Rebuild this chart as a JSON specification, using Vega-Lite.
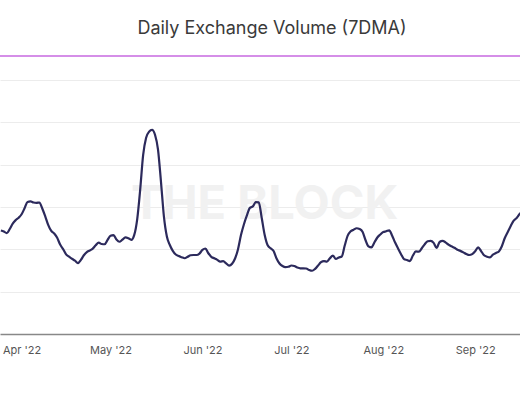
{
  "$schema": "https://vega.github.io/schema/vega-lite/v6.json",
  "autosize": {"type": "none"},
  "width": 520,
  "height": 278,
  "padding": {"top": 56, "left": 0, "right": 0, "bottom": 66},
  "background": "#ffffff",
  "title": {
    "text": "Daily Exchange Volume (7DMA)",
    "font": "Inter",
    "fontSize": 18,
    "fontWeight": "normal",
    "color": "#3a3a3a",
    "anchor": "middle",
    "offset": 17,
    "dx": 12
  },
  "config": {
    "view": {"stroke": null},
    "font": "Inter"
  },
  "datasets": {
    "vol": [
      {"date": "2022-03-25T00:00:00", "v": 12.23},
      {"date": "2022-03-26T00:00:00", "v": 12.11},
      {"date": "2022-03-27T00:00:00", "v": 11.91},
      {"date": "2022-03-28T00:00:00", "v": 12.40},
      {"date": "2022-03-29T00:00:00", "v": 13.04},
      {"date": "2022-03-30T00:00:00", "v": 13.45},
      {"date": "2022-03-31T00:00:00", "v": 13.74},
      {"date": "2022-04-01T00:00:00", "v": 14.15},
      {"date": "2022-04-02T00:00:00", "v": 14.86},
      {"date": "2022-04-03T00:00:00", "v": 15.60},
      {"date": "2022-04-04T00:00:00", "v": 15.67},
      {"date": "2022-04-05T00:00:00", "v": 15.54},
      {"date": "2022-04-06T00:00:00", "v": 15.49},
      {"date": "2022-04-07T00:00:00", "v": 15.53},
      {"date": "2022-04-08T00:00:00", "v": 14.80},
      {"date": "2022-04-09T00:00:00", "v": 13.87},
      {"date": "2022-04-10T00:00:00", "v": 12.86},
      {"date": "2022-04-11T00:00:00", "v": 12.17},
      {"date": "2022-04-12T00:00:00", "v": 11.87},
      {"date": "2022-04-13T00:00:00", "v": 11.36},
      {"date": "2022-04-14T00:00:00", "v": 10.56},
      {"date": "2022-04-15T00:00:00", "v": 10.03},
      {"date": "2022-04-16T00:00:00", "v": 9.41},
      {"date": "2022-04-17T00:00:00", "v": 9.13},
      {"date": "2022-04-18T00:00:00", "v": 8.89},
      {"date": "2022-04-19T00:00:00", "v": 8.66},
      {"date": "2022-04-20T00:00:00", "v": 8.37},
      {"date": "2022-04-21T00:00:00", "v": 8.75},
      {"date": "2022-04-22T00:00:00", "v": 9.30},
      {"date": "2022-04-23T00:00:00", "v": 9.67},
      {"date": "2022-04-24T00:00:00", "v": 9.86},
      {"date": "2022-04-25T00:00:00", "v": 10.09},
      {"date": "2022-04-26T00:00:00", "v": 10.48},
      {"date": "2022-04-27T00:00:00", "v": 10.80},
      {"date": "2022-04-28T00:00:00", "v": 10.63},
      {"date": "2022-04-29T00:00:00", "v": 10.60},
      {"date": "2022-04-30T00:00:00", "v": 11.12},
      {"date": "2022-05-01T00:00:00", "v": 11.60},
      {"date": "2022-05-02T00:00:00", "v": 11.68},
      {"date": "2022-05-03T00:00:00", "v": 11.16},
      {"date": "2022-05-04T00:00:00", "v": 10.90},
      {"date": "2022-05-05T00:00:00", "v": 11.14},
      {"date": "2022-05-06T00:00:00", "v": 11.42},
      {"date": "2022-05-07T00:00:00", "v": 11.32},
      {"date": "2022-05-08T00:00:00", "v": 11.12},
      {"date": "2022-05-09T00:00:00", "v": 11.71},
      {"date": "2022-05-10T00:00:00", "v": 13.58},
      {"date": "2022-05-11T00:00:00", "v": 17.06},
      {"date": "2022-05-12T00:00:00", "v": 21.16},
      {"date": "2022-05-13T00:00:00", "v": 23.18},
      {"date": "2022-05-14T00:00:00", "v": 23.90},
      {"date": "2022-05-15T00:00:00", "v": 24.11},
      {"date": "2022-05-16T00:00:00", "v": 23.54},
      {"date": "2022-05-17T00:00:00", "v": 21.82},
      {"date": "2022-05-18T00:00:00", "v": 18.04},
      {"date": "2022-05-19T00:00:00", "v": 13.90},
      {"date": "2022-05-20T00:00:00", "v": 11.52},
      {"date": "2022-05-21T00:00:00", "v": 10.51},
      {"date": "2022-05-22T00:00:00", "v": 9.82},
      {"date": "2022-05-23T00:00:00", "v": 9.39},
      {"date": "2022-05-24T00:00:00", "v": 9.20},
      {"date": "2022-05-25T00:00:00", "v": 9.07},
      {"date": "2022-05-26T00:00:00", "v": 8.95},
      {"date": "2022-05-27T00:00:00", "v": 9.12},
      {"date": "2022-05-28T00:00:00", "v": 9.30},
      {"date": "2022-05-29T00:00:00", "v": 9.33},
      {"date": "2022-05-30T00:00:00", "v": 9.33},
      {"date": "2022-05-31T00:00:00", "v": 9.50},
      {"date": "2022-06-01T00:00:00", "v": 9.93},
      {"date": "2022-06-02T00:00:00", "v": 10.10},
      {"date": "2022-06-03T00:00:00", "v": 9.54},
      {"date": "2022-06-04T00:00:00", "v": 9.12},
      {"date": "2022-06-05T00:00:00", "v": 8.94},
      {"date": "2022-06-06T00:00:00", "v": 8.76},
      {"date": "2022-06-07T00:00:00", "v": 8.55},
      {"date": "2022-06-08T00:00:00", "v": 8.61},
      {"date": "2022-06-09T00:00:00", "v": 8.34},
      {"date": "2022-06-10T00:00:00", "v": 8.08},
      {"date": "2022-06-11T00:00:00", "v": 8.30},
      {"date": "2022-06-12T00:00:00", "v": 8.92},
      {"date": "2022-06-13T00:00:00", "v": 10.02},
      {"date": "2022-06-14T00:00:00", "v": 11.69},
      {"date": "2022-06-15T00:00:00", "v": 12.97},
      {"date": "2022-06-16T00:00:00", "v": 14.01},
      {"date": "2022-06-17T00:00:00", "v": 14.90},
      {"date": "2022-06-18T00:00:00", "v": 15.08},
      {"date": "2022-06-19T00:00:00", "v": 15.57},
      {"date": "2022-06-20T00:00:00", "v": 15.54},
      {"date": "2022-06-21T00:00:00", "v": 13.70},
      {"date": "2022-06-22T00:00:00", "v": 11.69},
      {"date": "2022-06-23T00:00:00", "v": 10.48},
      {"date": "2022-06-24T00:00:00", "v": 10.12},
      {"date": "2022-06-25T00:00:00", "v": 9.80},
      {"date": "2022-06-26T00:00:00", "v": 8.93},
      {"date": "2022-06-27T00:00:00", "v": 8.33},
      {"date": "2022-06-28T00:00:00", "v": 8.03},
      {"date": "2022-06-29T00:00:00", "v": 7.89},
      {"date": "2022-06-30T00:00:00", "v": 7.94},
      {"date": "2022-07-01T00:00:00", "v": 8.09},
      {"date": "2022-07-02T00:00:00", "v": 8.03},
      {"date": "2022-07-03T00:00:00", "v": 7.85},
      {"date": "2022-07-04T00:00:00", "v": 7.76},
      {"date": "2022-07-05T00:00:00", "v": 7.76},
      {"date": "2022-07-06T00:00:00", "v": 7.74},
      {"date": "2022-07-07T00:00:00", "v": 7.56},
      {"date": "2022-07-08T00:00:00", "v": 7.47},
      {"date": "2022-07-09T00:00:00", "v": 7.70},
      {"date": "2022-07-10T00:00:00", "v": 8.09},
      {"date": "2022-07-11T00:00:00", "v": 8.48},
      {"date": "2022-07-12T00:00:00", "v": 8.62},
      {"date": "2022-07-13T00:00:00", "v": 8.55},
      {"date": "2022-07-14T00:00:00", "v": 8.94},
      {"date": "2022-07-15T00:00:00", "v": 9.27},
      {"date": "2022-07-16T00:00:00", "v": 8.86},
      {"date": "2022-07-17T00:00:00", "v": 9.04},
      {"date": "2022-07-18T00:00:00", "v": 9.15},
      {"date": "2022-07-19T00:00:00", "v": 10.45},
      {"date": "2022-07-20T00:00:00", "v": 11.63},
      {"date": "2022-07-21T00:00:00", "v": 12.13},
      {"date": "2022-07-22T00:00:00", "v": 12.32},
      {"date": "2022-07-23T00:00:00", "v": 12.49},
      {"date": "2022-07-24T00:00:00", "v": 12.40},
      {"date": "2022-07-25T00:00:00", "v": 12.07},
      {"date": "2022-07-26T00:00:00", "v": 11.10},
      {"date": "2022-07-27T00:00:00", "v": 10.36},
      {"date": "2022-07-28T00:00:00", "v": 10.24},
      {"date": "2022-07-29T00:00:00", "v": 10.81},
      {"date": "2022-07-30T00:00:00", "v": 11.40},
      {"date": "2022-07-31T00:00:00", "v": 11.75},
      {"date": "2022-08-01T00:00:00", "v": 12.05},
      {"date": "2022-08-02T00:00:00", "v": 12.13},
      {"date": "2022-08-03T00:00:00", "v": 12.25},
      {"date": "2022-08-04T00:00:00", "v": 11.61},
      {"date": "2022-08-05T00:00:00", "v": 10.80},
      {"date": "2022-08-06T00:00:00", "v": 10.10},
      {"date": "2022-08-07T00:00:00", "v": 9.43},
      {"date": "2022-08-08T00:00:00", "v": 8.85},
      {"date": "2022-08-09T00:00:00", "v": 8.74},
      {"date": "2022-08-10T00:00:00", "v": 8.62},
      {"date": "2022-08-11T00:00:00", "v": 9.27},
      {"date": "2022-08-12T00:00:00", "v": 9.75},
      {"date": "2022-08-13T00:00:00", "v": 9.72},
      {"date": "2022-08-14T00:00:00", "v": 10.13},
      {"date": "2022-08-15T00:00:00", "v": 10.61},
      {"date": "2022-08-16T00:00:00", "v": 10.95},
      {"date": "2022-08-17T00:00:00", "v": 11.01},
      {"date": "2022-08-18T00:00:00", "v": 10.77},
      {"date": "2022-08-19T00:00:00", "v": 10.16},
      {"date": "2022-08-20T00:00:00", "v": 10.87},
      {"date": "2022-08-21T00:00:00", "v": 10.99},
      {"date": "2022-08-22T00:00:00", "v": 10.83},
      {"date": "2022-08-23T00:00:00", "v": 10.56},
      {"date": "2022-08-24T00:00:00", "v": 10.36},
      {"date": "2022-08-25T00:00:00", "v": 10.18},
      {"date": "2022-08-26T00:00:00", "v": 9.95},
      {"date": "2022-08-27T00:00:00", "v": 9.82},
      {"date": "2022-08-28T00:00:00", "v": 9.64},
      {"date": "2022-08-29T00:00:00", "v": 9.45},
      {"date": "2022-08-30T00:00:00", "v": 9.33},
      {"date": "2022-08-31T00:00:00", "v": 9.44},
      {"date": "2022-09-01T00:00:00", "v": 9.78},
      {"date": "2022-09-02T00:00:00", "v": 10.24},
      {"date": "2022-09-03T00:00:00", "v": 9.80},
      {"date": "2022-09-04T00:00:00", "v": 9.30},
      {"date": "2022-09-05T00:00:00", "v": 9.13},
      {"date": "2022-09-06T00:00:00", "v": 9.06},
      {"date": "2022-09-07T00:00:00", "v": 9.38},
      {"date": "2022-09-08T00:00:00", "v": 9.57},
      {"date": "2022-09-09T00:00:00", "v": 9.75},
      {"date": "2022-09-10T00:00:00", "v": 10.37},
      {"date": "2022-09-11T00:00:00", "v": 11.34},
      {"date": "2022-09-12T00:00:00", "v": 12.06},
      {"date": "2022-09-13T00:00:00", "v": 12.76},
      {"date": "2022-09-14T00:00:00", "v": 13.39},
      {"date": "2022-09-15T00:00:00", "v": 13.70},
      {"date": "2022-09-16T00:00:00", "v": 14.17},
      {"date": "2022-09-17T00:00:00", "v": 14.53}
    ],
    "marks": [
      {"label": "THE BLOCK", "mdate": "2022-06-22T00:00:00", "mv": 15.2, "top": 32.84}
    ]
  },
  "layer": [
    {
      "data": {"name": "marks"},
      "mark": {"type": "text", "font": "Inter", "fontSize": 47, "fontWeight": "bold", "color": "#f1f1f1", "align": "center", "baseline": "middle"},
      "encoding": {
        "text": {"field": "label"},
        "x": {"field": "mdate", "type": "temporal"},
        "y": {"field": "mv", "type": "quantitative"}
      }
    },
    {
      "data": {"name": "vol"},
      "mark": {"type": "line", "color": "#2c2a5c", "strokeWidth": 2.2, "clip": true, "interpolate": "monotone"},
      "encoding": {
        "x": {
          "field": "date",
          "type": "temporal",
          "scale": {"domain": [{"year": 2022, "month": 3, "date": 24, "hours": 17}, {"year": 2022, "month": 9, "date": 16, "hours": 3}]},
          "axis": {
            "title": null,
            "format": "%b '%y",
            "tickCount": {"interval": "month", "step": 1},
            "ticks": false,
            "grid": false,
            "domain": true,
            "domainColor": "#888888",
            "domainWidth": 1.5,
            "labelColor": "#555555",
            "labelFontSize": 11,
            "labelFont": "Inter",
            "labelPadding": 10,
            "labelFlush": false,
            "labelOverlap": false
          }
        },
        "y": {
          "field": "v",
          "type": "quantitative",
          "scale": {"domain": [0, 32.84], "nice": false, "zero": true},
          "axis": {
            "title": null,
            "values": [5, 10, 15, 20, 25, 30],
            "labels": false,
            "ticks": false,
            "domain": false,
            "grid": true,
            "gridColor": "#ececec",
            "gridWidth": 1
          }
        }
      }
    },
    {
      "data": {"name": "marks"},
      "mark": {"type": "rule", "color": "#c768e0", "strokeWidth": 1.5},
      "encoding": {
        "y": {"field": "top", "type": "quantitative"}
      }
    }
  ]
}
